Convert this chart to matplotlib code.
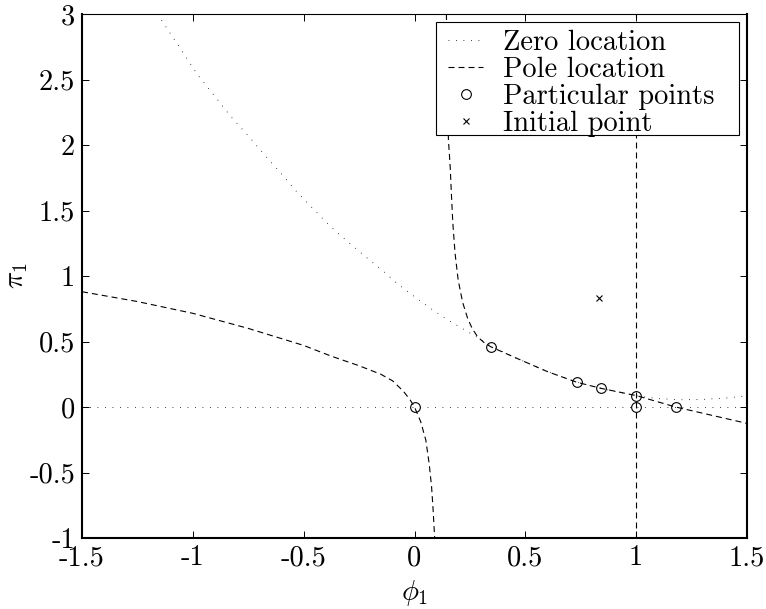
import numpy as np
import matplotlib
matplotlib.use("Agg")
import matplotlib.pyplot as plt
from matplotlib.patches import Rectangle

# zero location curve
zero_x = [-1.16, -1.05, -0.98, -0.9, -0.83, -0.75, -0.68, -0.6, -0.53, -0.45,
          -0.38, -0.3, -0.23, -0.15, -0.08, 0.0, 0.075, 0.15, 0.225, 0.3, 0.345,
          0.45, 0.6, 0.732, 0.84, 1.0, 1.1, 1.2, 1.3, 1.4, 1.5]
zero_y = [3.0, 2.72, 2.54, 2.37, 2.22, 2.07, 1.93, 1.78, 1.64, 1.5,
          1.38, 1.26, 1.16, 1.05, 0.945, 0.842, 0.75, 0.665, 0.59, 0.515, 0.465,
          0.38, 0.27, 0.19, 0.143, 0.085, 0.064, 0.055, 0.058, 0.068, 0.085]
# zero location along pi1 = 0
zero_line_x = [-1.5, 1.5]
zero_line_y = [0.0, 0.0]

# pole location, left branch
pole_left_x = [-1.5, -1.25, -1.0, -0.75, -0.5, -0.377, -0.25, -0.152, -0.099,
               -0.05, -0.02, 0.0, 0.028, 0.051, 0.066, 0.077, 0.084, 0.089, 0.091]
pole_left_y = [0.88, 0.805, 0.715, 0.6, 0.47, 0.389, 0.315, 0.25, 0.2,
               0.12, 0.055, 0.0, -0.112, -0.252, -0.43, -0.608, -0.786, -0.94, -1.0]
# pole location, right branch
pole_right_x = [0.144, 0.148, 0.153, 0.161, 0.167, 0.173, 0.183, 0.197, 0.217,
                0.239, 0.26, 0.285, 0.315, 0.344, 0.45, 0.6, 0.732, 0.84, 1.003,
                1.178, 1.5]
pole_right_y = [3.0, 2.5, 2.04, 1.834, 1.605, 1.402, 1.173, 0.969, 0.80,
                0.68, 0.6, 0.535, 0.49, 0.46, 0.38, 0.27, 0.189, 0.143, 0.086,
                0.0, -0.125]
# pole location, vertical line phi1 = 1
pole_vert_x = [1.0, 1.0]
pole_vert_y = [-1.0, 3.0]

part_x = [0.0, 0.344, 0.732, 0.84, 1.0, 1.0, 1.178]
part_y = [0.0, 0.46, 0.189, 0.143, 0.086, 0.0, 0.0]

init_x = [0.833]
init_y = [0.834]

xticks = [-1.5, -1, -0.5, 0, 0.5, 1, 1.5]
xticklabels = ["-1.5", "-1", "-0.5", "0", "0.5", "1", "1.5"]
yticks = [-1, -0.5, 0, 0.5, 1, 1.5, 2, 2.5, 3]
yticklabels = ["-1", "-0.5", "0", "0.5", "1", "1.5", "2", "2.5", "3"]

plt.rcParams["font.family"] = "cmr10"
plt.rcParams["mathtext.fontset"] = "cm"
plt.rcParams["axes.unicode_minus"] = False
plt.rcParams["font.size"] = 20.5

fig = plt.figure(figsize=(7.66, 6.09), dpi=100)
ax = fig.add_axes([82 / 766, 1 - 538 / 609, 665 / 766, 524 / 609])

dot = (0, (1, 8))
dash = (0, (5.4, 3.6))

ax.plot(zero_x, zero_y, color="black", lw=0.6, linestyle=dot, label="Zero location")
ax.plot(zero_line_x, zero_line_y, color="black", lw=0.6, linestyle=dot)
ax.plot(pole_left_x, pole_left_y, color="black", lw=0.8, linestyle=dash, label="Pole location")
ax.plot(pole_right_x, pole_right_y, color="black", lw=0.8, linestyle=dash)
ax.plot(pole_vert_x, pole_vert_y, color="black", lw=0.8, linestyle=dash)
ax.plot(part_x, part_y, "o", ms=7, mfc="none", mec="black", mew=0.8,
        label="Particular points")
ax.plot(init_x, init_y, "x", ms=5, color="black", mew=0.8, label="Initial point")

ax.set_xlim(-1.5, 1.5)
ax.set_ylim(-1, 3)
ax.set_xticks(xticks)
ax.set_xticklabels(xticklabels)
ax.set_yticks(yticks)
ax.set_yticklabels(yticklabels)
ax.tick_params(direction="in", top=True, right=True, length=5, width=0.7, pad=5)

for side in ["left", "bottom", "right"]:
    ax.spines[side].set_linewidth(1.5)
ax.spines["top"].set_linewidth(0.8)

ax.set_xlabel(r"$\phi_1$")
ax.set_ylabel(r"$\pi_1$")
ax.xaxis.set_label_coords(0.5, -0.076)
ax.yaxis.set_label_coords(-0.078, 0.5)

# legend box drawn by hand so the padding matches the original
box = Rectangle((0.5323, 0.769), 0.4556, 0.2162, transform=ax.transAxes,
                facecolor="white", edgecolor="black", lw=0.8, zorder=4.5)
ax.add_patch(box)
leg = ax.legend(loc="upper left", bbox_to_anchor=(0.5504, 0.9695), borderaxespad=0,
                frameon=False, labelspacing=0.02, handlelength=1.23,
                handletextpad=0.7, borderpad=0)

fig.savefig("out.png", dpi=100)
